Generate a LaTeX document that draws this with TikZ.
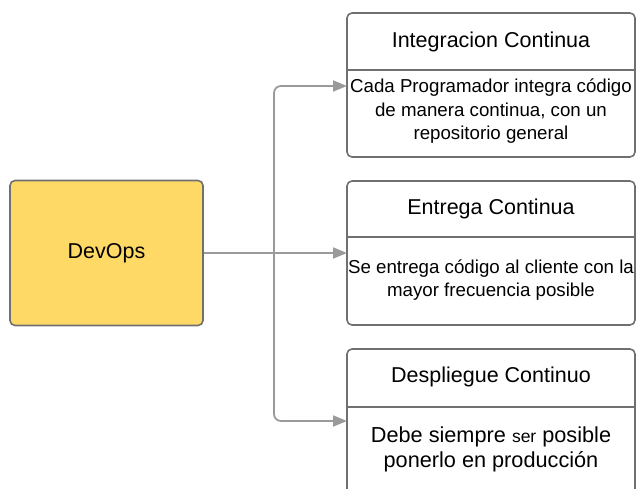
\documentclass[tikz,border=0pt]{standalone}
\usepackage{fontspec}
\setmainfont{Liberation Sans}
\usetikzlibrary{arrows.meta}
\definecolor{boxyellow}{HTML}{FFD966}
\definecolor{boxborder}{HTML}{707070}
\definecolor{conncol}{HTML}{9A9A9A}
\tikzset{
  box/.style={draw=boxborder, line width=1.6pt, rounded corners=5pt, inner sep=0pt},
  divider/.style={draw=boxborder, line width=1.6pt},
  headtxt/.style={font=\fontsize{21.5}{25}\selectfont, text=black, inner sep=0pt},
  bodytxt/.style={font=\fontsize{18.7}{23.5}\selectfont, text=black, align=center, inner sep=0pt},
  bigtxt/.style={font=\fontsize{21.7}{25}\selectfont, text=black, align=center, inner sep=0pt},
  conn/.style={draw=conncol, line width=1.8pt, rounded corners=7pt, -{Triangle[length=14pt,width=11pt]}},
}
\begin{document}
\begin{tikzpicture}[x=1pt,y=1pt]
\useasboundingbox (0,0) rectangle (638,488);
\clip (0,0) rectangle (638,488);
% DevOps
\node[box, fill=boxyellow, minimum width=193pt, minimum height=145pt] (devops) at (106.5,235) {};
\node[headtxt] (devopstxt) at (devops.center) {DevOps};
% Box 1
\node[box, fill=white, minimum width=288pt, minimum height=144pt] (ic) at (491,403) {};
\draw[divider] (347,418) -- (635,418);
\node[headtxt] (ichead) at (491,446.5) {Integracion Continua};
\node[bodytxt] (icbody) at (491,376.5) {Cada Programador integra código\\de manera continua, con un\\repositorio general};
% Box 2
\node[box, fill=white, minimum width=288pt, minimum height=144pt] (ec) at (491,235) {};
\draw[divider] (347,251) -- (635,251);
\node[headtxt] (echead) at (491,279) {Entrega Continua};
\node[bodytxt] (ecbody) at (491,208) {Se entrega código al cliente con la\\mayor frecuencia posible};
% Box 3
\node[box, fill=white, minimum width=288pt, minimum height=160pt] (dc) at (491,59) {};
\draw[divider] (347,81) -- (635,81);
\node[headtxt] (dchead) at (491,111) {Despliegue Continuo};
\node[bigtxt] (dcbody) at (491,38.5) {Debe siempre {\fontsize{17.5}{20}\selectfont ser} posible\\ponerlo en producción};
% connectors
\coordinate (bus) at (274,235);
\coordinate (t1) at (347,402);
\coordinate (t2) at (347,235);
\coordinate (t3) at (347,67);
\draw[conn] (devops.east) -- (t2);
\draw[conn] (bus) |- (t1);
\draw[conn] (bus) |- (t3);
\end{tikzpicture}
\end{document}
